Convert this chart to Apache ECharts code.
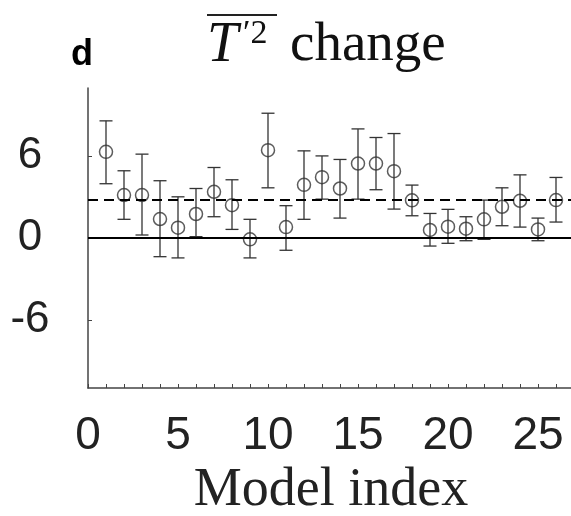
<!DOCTYPE html>
<html>
<head>
<meta charset="utf-8">
<script src="https://cdn.jsdelivr.net/npm/echarts@6/dist/echarts.min.js"></script>
<style>
html,body{margin:0;padding:0;background:#fff;}
#chart{width:571px;height:516px;}
</style>
</head>
<body>
<div id="chart"></div>
<script>
// Data
const modelIndex = [1,2,3,4,5,6,7,8,9,10,11,12,13,14,15,16,17,18,19,20,21,22,23,24,25,26];
const values = [6.32,3.15,3.15,1.39,0.76,1.76,3.39,2.41,-0.1,6.44,0.8,3.9,4.46,3.63,5.46,5.46,4.9,2.76,0.59,0.83,0.68,1.37,2.29,2.73,0.63,2.78];
const upper  = [8.59,4.93,6.15,4.2,3.02,3.63,5.17,4.27,1.37,9.15,2.37,6.39,6.02,5.76,8.0,7.37,7.66,3.88,1.8,2.1,1.56,2.78,3.68,4.63,1.46,4.44];
const lower  = [3.98,1.37,0.22,-1.37,-1.46,0.1,1.56,0.63,-1.46,3.68,-0.9,1.37,2.85,1.46,2.85,3.54,2.12,1.63,-0.59,-0.39,-0.2,-0.1,0.9,0.8,-0.2,1.17];
const meanLevel = 2.83;
const zeroLevel = 0;
const xTickLabels = [0,5,10,15,20,25];
const yTickLabels = [-6,0,6];

const chart = echarts.init(document.getElementById('chart'), null, {renderer:'canvas'});

const scatterData = modelIndex.map((m,i)=>[m, values[i]]);
const barData = modelIndex.map((m,i)=>[m, lower[i], upper[i]]);

const option = {
  backgroundColor:'#ffffff',
  animation:false,
  grid:{left:88, top:88, bottom:128, right:-3, containLabel:false, outerBoundsMode:'none'},
  xAxis:{
    type:'value', min:0, max:27, interval:1,
    name:'Model index', nameLocation:'middle', nameGap:76,
    nameTextStyle:{fontFamily:'Liberation Serif', fontSize:54, color:'#222'},
    axisLine:{show:true, onZero:false, lineStyle:{color:'#444', width:1.5}},
    axisTick:{show:true, inside:true, length:4, lineStyle:{color:'#444', width:1}},
    axisLabel:{customValues:xTickLabels, margin:25, fontFamily:'Liberation Sans', fontSize:46, color:'#222'},
    splitLine:{show:false}
  },
  yAxis:{
    type:'value', min:-11, max:11,
    axisLine:{show:true, onZero:false, lineStyle:{color:'#444', width:1.5}},
    axisTick:{show:true, inside:true, length:4, customValues:yTickLabels, lineStyle:{color:'#444', width:1}},
    axisLabel:{customValues:yTickLabels, margin:58, align:'center', fontFamily:'Liberation Sans', fontSize:44, color:'#222'},
    splitLine:{show:false}
  },
  series:[
    {
      type:'line', data:[], silent:true,
      markLine:{
        silent:true, symbol:['none','none'], label:{show:false},
        data:[
          {yAxis:zeroLevel, lineStyle:{color:'#000', width:2, type:'solid'}},
          {yAxis:meanLevel, lineStyle:{color:'#000', width:2, type:[10,6]}}
        ]
      }
    },
    {
      type:'custom', data:barData, silent:true,
      renderItem:function(params, api){
        const x = api.value(0), lo = api.value(1), hi = api.value(2);
        const pHi = api.coord([x, hi]);
        const pLo = api.coord([x, lo]);
        const hw = 6.5;
        const st = {stroke:'#333', lineWidth:1.3};
        return {type:'group', children:[
          {type:'line', shape:{x1:pHi[0], y1:pHi[1], x2:pLo[0], y2:pLo[1]}, style:st},
          {type:'line', shape:{x1:pHi[0]-hw, y1:pHi[1], x2:pHi[0]+hw, y2:pHi[1]}, style:st},
          {type:'line', shape:{x1:pLo[0]-hw, y1:pLo[1], x2:pLo[0]+hw, y2:pLo[1]}, style:st}
        ]};
      }
    },
    {
      type:'scatter', data:scatterData, symbol:'circle', symbolSize:13, silent:true,
      itemStyle:{color:'rgba(0,0,0,0)', borderColor:'#333', borderWidth:1.5}
    }
  ],
  graphic:[
    {type:'text', x:82, y:55, style:{text:'d', fontFamily:'Liberation Sans', fontWeight:'bold', fontSize:36, fill:'#000', align:'center', verticalAlign:'middle'}},
    {type:'text', x:207, y:46, style:{text:'T', fontFamily:'Liberation Serif', fontStyle:'italic', fontSize:56, fill:'#111', align:'left', verticalAlign:'middle'}},
    {type:'text', x:243, y:34, style:{text:'\u20322', fontFamily:'Liberation Serif', fontSize:34, fill:'#111', align:'left', verticalAlign:'middle'}},
    {type:'line', shape:{x1:207, y1:15, x2:277, y2:15}, style:{stroke:'#222', lineWidth:2}},
    {type:'text', x:290, y:46, style:{text:'change', fontFamily:'Liberation Serif', fontSize:55, fill:'#111', align:'left', verticalAlign:'middle'}}
  ]
};
chart.setOption(option);
</script>
</body>
</html>
